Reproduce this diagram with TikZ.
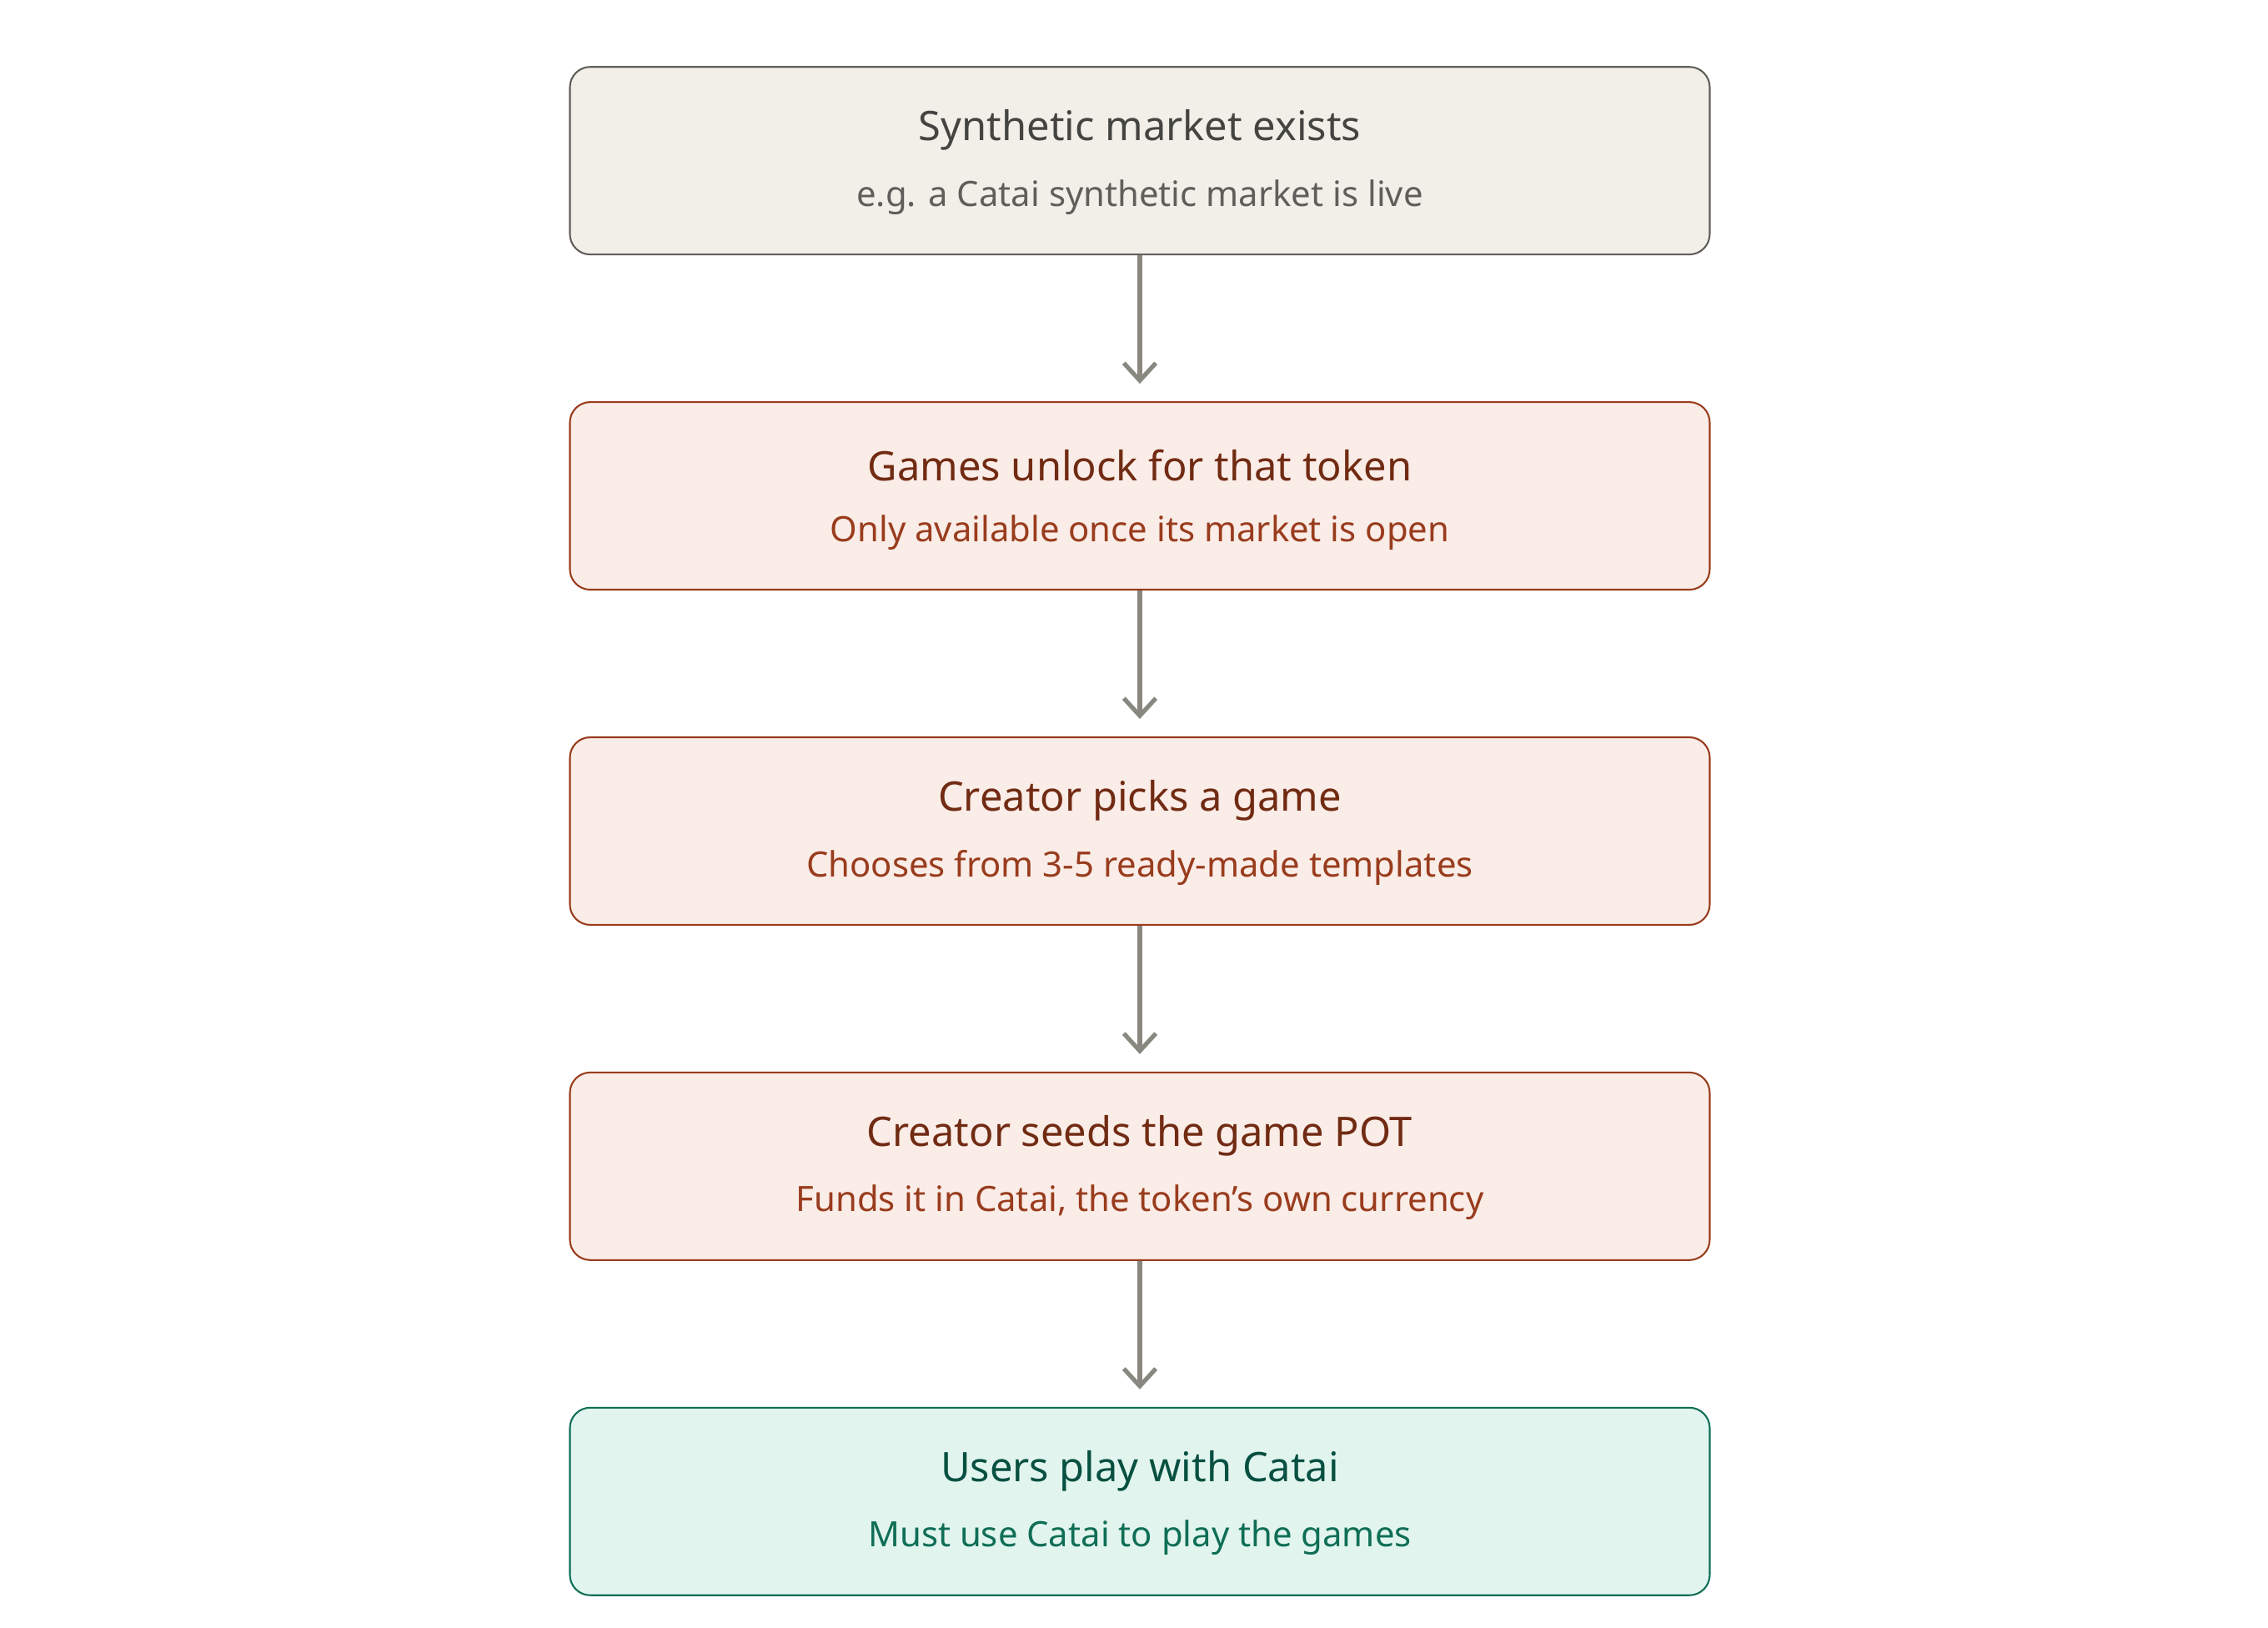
\documentclass[tikz,border=0pt]{standalone}
\usepackage{fontspec}
\setmainfont{Noto Sans}
\usetikzlibrary{arrows.meta}
\definecolor{gf}{HTML}{F1EFE8}\definecolor{gs}{HTML}{5F5E5A}\definecolor{gt}{HTML}{444441}\definecolor{gu}{HTML}{5F5E5A}
\definecolor{rf}{HTML}{FAECE7}\definecolor{rs}{HTML}{993C1D}\definecolor{rt}{HTML}{712B13}
\definecolor{ef}{HTML}{E1F5EE}\definecolor{es}{HTML}{0F6E56}\definecolor{et}{HTML}{085041}
\definecolor{ar}{HTML}{888780}
\begin{document}
\begin{tikzpicture}[x=0.5pt,y=-0.5pt,
 box/.style={draw, rounded corners=7pt, line width=0.6pt, minimum width=392pt, minimum height=64.5pt, inner sep=0pt},
 ttl/.style={font=\fontsize{14}{16}\selectfont\bfseries},
 sub/.style={font=\fontsize{12}{14}\selectfont},
 arr/.style={draw=ar, line width=1.5pt, -{Straight Barb[length=6pt,width=11pt,line width=1.5pt]}}]
\useasboundingbox (0,0) rectangle (1560,1119);
\foreach \n/\y/\f/\s/\t/\u/\A/\B in {
 a/110.5/gf/gs/gt/gu/{Synthetic market exists}/{e.g. a Catai synthetic market is live},
 b/341/rf/rs/rt/rs/{Games unlock for that token}/{Only available once its market is open},
 c/571.5/rf/rs/rt/rs/{Creator picks a game}/{Chooses from 3-5 ready-made templates},
 d/802/rf/rs/rt/rs/{Creator seeds the game POT}/{Funds it in Catai, the token's own currency},
 e/1032.5/ef/es/et/es/{Users play with Catai}/{Must use Catai to play the games}}{
 \node[box, fill=\f, draw=\s] (\n) at (784,\y) {};
 \node[ttl, text=\t] (\n t) at (784,\y-21) {\A};
 \node[sub, text=\u] (\n s) at (784,\y+25) {\B};
}
\foreach \p/\q in {a/b,b/c,c/d,d/e}{\draw[arr] (\p.south) -- ([yshift=6pt]\q.north);}
\end{tikzpicture}
\end{document}
